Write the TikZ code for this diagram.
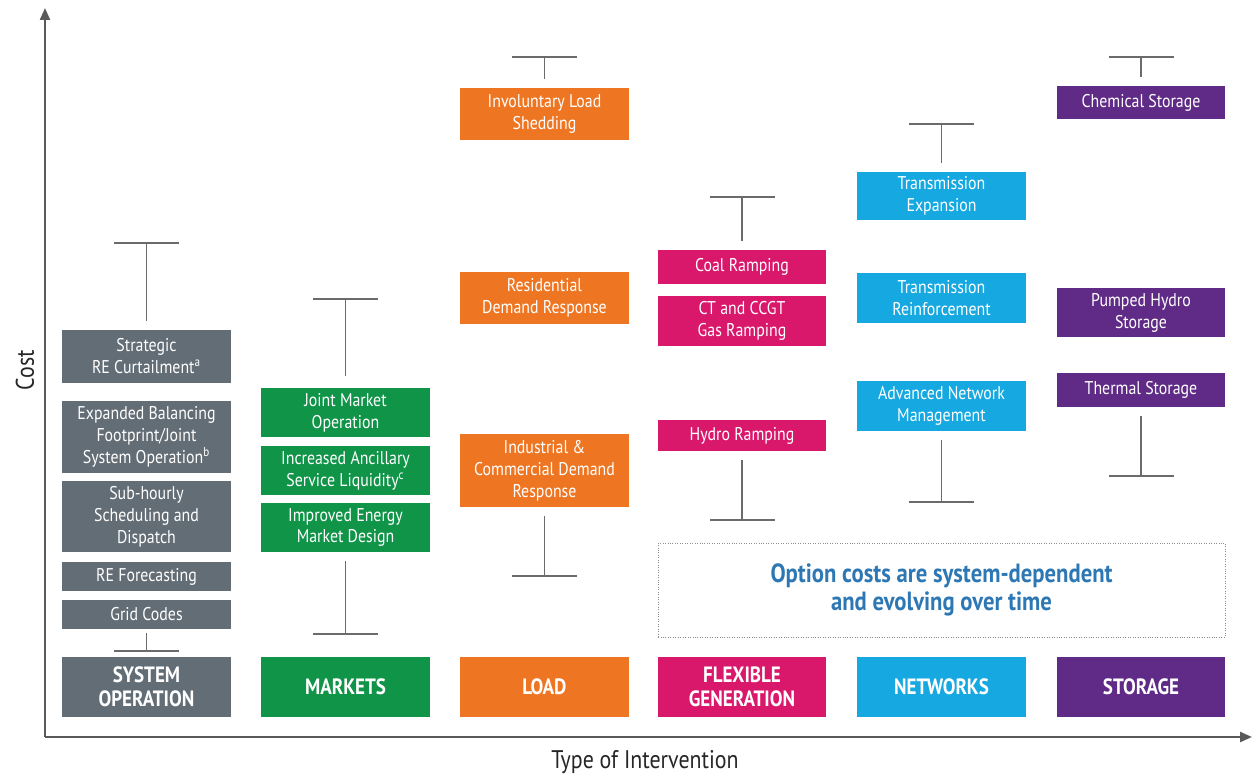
\documentclass[tikz,border=0pt]{standalone}
\usepackage{fontspec}
\setmainfont{PT Sans}[FakeStretch=0.86]
\usetikzlibrary{arrows.meta, positioning}
\definecolor{soGrey}{RGB}{99,109,117}
\definecolor{mkGreen}{RGB}{16,148,72}
\definecolor{ldOrange}{RGB}{238,118,35}
\definecolor{fgPink}{RGB}{217,23,107}
\definecolor{nwCyan}{RGB}{22,168,224}
\definecolor{stPurple}{RGB}{95,43,134}
\definecolor{noteBlue}{RGB}{45,120,180}
\definecolor{axisGrey}{RGB}{90,90,90}

\begin{document}
\begin{tikzpicture}[x=0.02cm, y=-0.02cm,
  opt/.style={inner sep=0pt, minimum width=3.38cm, align=center, text=white, font=\fontsize{10.5}{12.5}\selectfont},
  cat/.style={opt, minimum height=1.2cm, font=\bfseries\fontsize{12.6}{13.6}\selectfont},
  whisker/.style={draw=axisGrey!90, line width=1.1pt, shorten <=0.18cm, -{Bar[width=1.3cm, line width=1.1pt]}},
  axis/.style={draw=axisGrey, line width=1.2pt, -{Triangle[length=0.24cm, width=0.2cm]}}]
  \useasboundingbox (0,0) rectangle (1254,776);
  % Axes
  \coordinate (origin) at (45,737);
  \coordinate (ytop) at (45,8);
  \coordinate (xend) at (1252,737);
  \draw[axis] (origin) -- (ytop);
  \draw[axis] (origin) -- (xend);
  \node[rotate=90, font=\fontsize{14.5}{16}\selectfont, text=black!85] (ylab) at (25,370) {Cost};
  \node[font=\fontsize{14.5}{16}\selectfont, text=black!85] (xlab) at (645,762) {Type of Intervention};
  % System operation
  \node[opt, fill=soGrey, minimum height=1.06cm] (s1) at (146.5,356.5) {Strategic\\RE Curtailment\textsuperscript{a}};
  \node[opt, fill=soGrey, minimum height=1.44cm] (s2) at (146.5,437) {Expanded Balancing\\Footprint/Joint\\System Operation\textsuperscript{b}};
  \node[opt, fill=soGrey, minimum height=1.42cm] (s3) at (146.5,516.5) {Sub-hourly\\Scheduling and\\Dispatch};
  \node[opt, fill=soGrey, minimum height=0.58cm] (s4) at (146.5,576.5) {RE Forecasting};
  \node[opt, fill=soGrey, minimum height=0.58cm] (s5) at (146.5,614.5) {Grid Codes};
  \node[cat, fill=soGrey] (c1) at (146.5,687) {SYSTEM\\OPERATION};
  \coordinate (s1top) at (146.5,242);
  \coordinate (s5bot) at (146.5,652);
  \draw[whisker] (s1) -- (s1top);
  \draw[whisker, shorten <=0.08cm] (s5) -- (s5bot);
  % Markets
  \node[opt, fill=mkGreen, minimum height=0.98cm] (m1) at (345.5,412.5) {Joint Market\\Operation};
  \node[opt, fill=mkGreen, minimum height=0.98cm] (m2) at (345.5,470.5) {Increased Ancillary\\Service Liquidity\textsuperscript{c}};
  \node[opt, fill=mkGreen, minimum height=0.98cm] (m3) at (345.5,527.5) {Improved Energy\\Market Design};
  \node[cat, fill=mkGreen] (c2) at (345.5,687) {MARKETS};
  \coordinate (m1top) at (345.5,298);
  \coordinate (m3bot) at (345.5,635);
  \draw[whisker, shorten <=0.24cm] (m1) -- (m1top);
  \draw[whisker] (m3) -- (m3bot);
  % Load
  \node[opt, fill=ldOrange, minimum height=1.04cm] (l1) at (544.5,114) {Involuntary Load\\Shedding};
  \node[opt, fill=ldOrange, minimum height=1.04cm] (l2) at (544.5,298) {Residential\\Demand Response};
  \node[opt, fill=ldOrange, minimum height=1.46cm] (l3) at (544.5,470.5) {Industrial \&\\Commercial Demand\\Response};
  \node[cat, fill=ldOrange] (c3) at (544.5,687) {LOAD};
  \coordinate (l1top) at (544.5,56);
  \coordinate (l3bot) at (544.5,577);
  \draw[whisker] (l1) -- (l1top);
  \draw[whisker] (l3) -- (l3bot);
  % Flexible generation
  \node[opt, fill=fgPink, minimum height=0.68cm] (f1) at (742,267) {Coal Ramping};
  \node[opt, fill=fgPink, minimum height=1.0cm] (f2) at (742,321) {CT and CCGT\\Gas Ramping};
  \node[opt, fill=fgPink, minimum height=0.62cm] (f3) at (742,435.5) {Hydro Ramping};
  \node[cat, fill=fgPink] (c4) at (742,687) {FLEXIBLE\\GENERATION};
  \coordinate (f1top) at (742,196);
  \coordinate (f3bot) at (742,521);
  \draw[whisker] (f1) -- (f1top);
  \draw[whisker] (f3) -- (f3bot);
  % Networks
  \node[opt, fill=nwCyan, minimum height=0.96cm] (n1) at (941.5,196) {Transmission\\Expansion};
  \node[opt, fill=nwCyan, minimum height=1.0cm] (n2) at (941.5,298) {Transmission\\Reinforcement};
  \node[opt, fill=nwCyan, minimum height=1.0cm] (n3) at (941.5,406) {Advanced Network\\Management};
  \node[cat, fill=nwCyan] (c5) at (941.5,687) {NETWORKS};
  \coordinate (n1top) at (941.5,123);
  \coordinate (n3bot) at (941.5,503);
  \draw[whisker] (n1) -- (n1top);
  \draw[whisker] (n3) -- (n3bot);
  % Storage
  \node[opt, fill=stPurple, minimum height=0.66cm] (t1) at (1141,102.5) {Chemical Storage};
  \node[opt, fill=stPurple, minimum height=0.98cm] (t2) at (1141,312.5) {Pumped Hydro\\Storage};
  \node[opt, fill=stPurple, minimum height=0.68cm] (t3) at (1141,390) {Thermal Storage};
  \node[cat, fill=stPurple] (c6) at (1141,687) {STORAGE};
  \coordinate (t1top) at (1141,56);
  \coordinate (t3bot) at (1141,477);
  \draw[whisker] (t1) -- (t1top);
  \draw[whisker] (t3) -- (t3bot);
  % Note
  \node[draw=black!45, densely dotted, thin, minimum width=11.34cm, minimum height=1.88cm, align=center, text=noteBlue, font=\bfseries\fontsize{15}{16}\selectfont] (note) at (941.5,590) {Option costs are system-dependent\\and evolving over time};
\end{tikzpicture}
\end{document}
